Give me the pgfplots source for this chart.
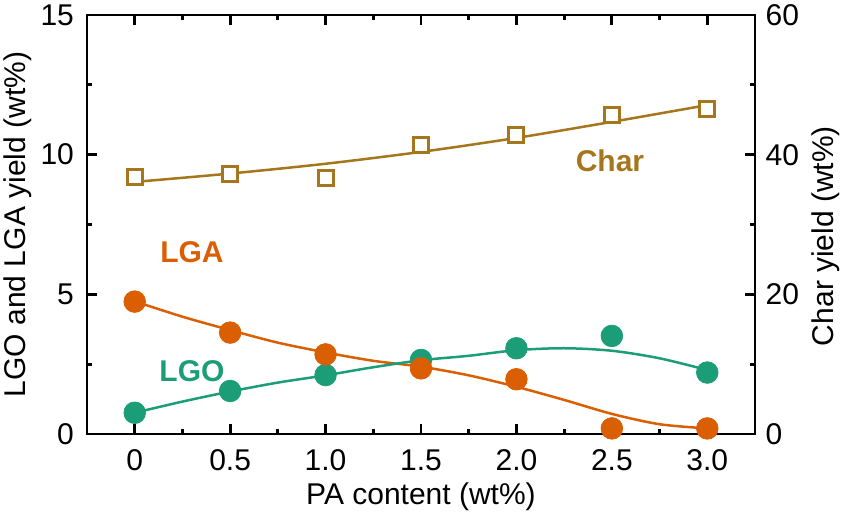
\documentclass[border=0pt]{standalone}
\usepackage{pgfplots}
\pgfplotsset{compat=1.18}
\usepackage{fontspec}
\setmainfont{Liberation Sans}
\definecolor{lga}{HTML}{D95F02}
\definecolor{lgo}{HTML}{1B9E77}
\definecolor{charc}{HTML}{A6761D}
\newcommand{\fs}{\fontsize{15}{17}\selectfont}
\begin{document}
\begin{tikzpicture}
\pgfplotsset{
  common/.style={
    scale only axis, width=334pt, height=209.5pt,
    xmin=-0.25, xmax=3.25,
    tick align=inside,
    major tick length=5pt, minor tick length=2.5pt,
    every tick/.style={line width=1.4pt, black},
    axis line style={line width=1.4pt},
    /pgf/number format/assume math mode=true,
    tick label style={font=\fs},
  }
}
\path[use as bounding box] (-43.5pt,-45.5pt) rectangle (380.5pt,217pt);
\begin{axis}[common,
  ymin=0, ymax=15,
  ytick={0,5,10,15}, minor ytick={2.5,7.5,12.5},
  xtick={0,0.5,1,1.5,2,2.5,3}, xticklabels={0,0.5,1.0,1.5,2.0,2.5,3.0},
  minor xtick={0.25,0.75,1.25,1.75,2.25,2.75},
  ytick pos=left, xtick pos=both, xticklabel pos=bottom,
  xticklabel style={yshift=-4.3pt},
  yticklabel style={xshift=-3.0pt},
  xlabel={PA content (wt\%)},
  ylabel={LGO and LGA yield (wt\%)},
  every axis x label/.style={at={(axis description cs:0.5,-0.150)}, anchor=center, font=\fs},
  every axis y label/.style={at={(axis description cs:-0.1033,0.5)}, anchor=center, rotate=90, font=\fs},
]
% LGA fitted curve
\addplot[lga, line width=1.25pt, smooth] coordinates {
 (0,4.75) (0.25,4.2) (0.5,3.72) (0.75,3.27) (1,2.92) (1.25,2.62) (1.5,2.41)
 (1.75,2.1) (2,1.69) (2.25,1.22) (2.5,0.72) (2.75,0.35) (3,0.2)};
% LGO fitted curve
\addplot[lgo, line width=1.25pt, smooth] coordinates {
 (0,0.76) (0.25,1.16) (0.5,1.52) (0.75,1.84) (1,2.1) (1.25,2.39) (1.5,2.64)
 (1.75,2.8) (2,3.0) (2.25,3.07) (2.5,2.98) (2.75,2.71) (3,2.29)};
% LGO data
\addplot[only marks, mark=*, mark size=5.4pt, mark options={fill=lgo, draw=lgo, line width=0.4pt}] coordinates {
 (0,0.76) (0.5,1.54) (1,2.11) (1.5,2.65) (2,3.07) (2.5,3.51) (3,2.2)};
% LGA data
\addplot[only marks, mark=*, mark size=5.4pt, mark options={fill=lga, draw=lga, line width=0.4pt}] coordinates {
 (0,4.74) (0.5,3.63) (1,2.85) (1.5,2.35) (2,1.96) (2.5,0.2) (3,0.2)};
\node[font=\fs\bfseries, text=lga] at (axis cs:0.30,6.5) {LGA};
\node[font=\fs\bfseries, text=lgo] at (axis cs:0.30,2.26) {LGO};
\node[font=\fs\bfseries, text=charc] at (axis cs:2.49,9.77) {Char};
\end{axis}
\begin{axis}[common,
  ymin=0, ymax=60,
  axis x line=none, axis y line*=right,
  ytick={0,20,40,60}, minor ytick={10,30,50},
  yticklabel style={xshift=1.8pt},
  ylabel={Char yield (wt\%)},
  every axis y label/.style={at={(axis description cs:1.106,0.4726)}, anchor=center, rotate=90, font=\fs},
]
\addplot[charc, line width=1.25pt, smooth] coordinates {
 (0,36.1) (0.5,37.3) (1,38.7) (1.5,40.4) (2,42.4) (2.5,44.7) (3,47.1)};
\addplot[only marks, mark=square*, mark size=3.75pt, mark options={fill=white, draw=charc, line width=1.5pt}] coordinates {
 (0,36.8) (0.5,37.2) (1,36.7) (1.5,41.4) (2,42.8) (2.5,45.7) (3,46.5)};
\end{axis}
\end{tikzpicture}
\end{document}
